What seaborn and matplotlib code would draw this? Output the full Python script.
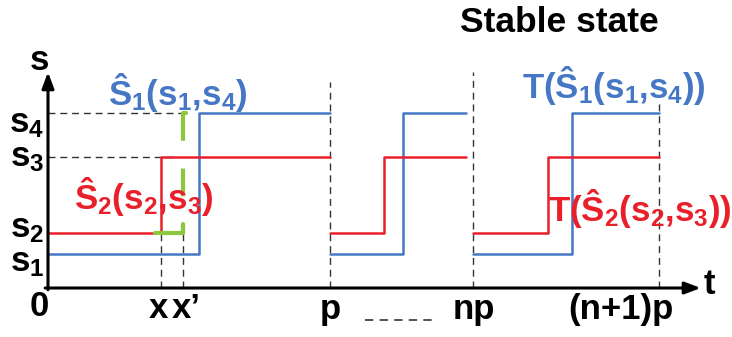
import matplotlib
matplotlib.use("Agg")
import matplotlib.pyplot as plt
import seaborn as sns
import pandas as pd

sns.set_theme(style="white")
plt.rcParams["font.family"] = ["Liberation Sans", "DejaVu Sans"]
plt.rcParams["font.weight"] = "bold"
plt.rcParams["text.color"] = "black"
plt.rcParams["mathtext.fontset"] = "custom"
plt.rcParams["mathtext.rm"] = "Liberation Sans:bold"
plt.rcParams["mathtext.it"] = "Liberation Sans:bold"
plt.rcParams["mathtext.bf"] = "Liberation Sans:bold"
plt.rcParams["lines.scale_dashes"] = False

# signal levels s1..s4
levels = {"s1": 1.0, "s2": 1.62, "s3": 3.85, "s4": 5.15}

# time axis (in units of the period p)
seg_start = [0.0, 1.0, 1.507]
seg_end = [1.0, 1.482, 2.167]
step_s2 = [0.401, 1.191, 1.773]     # rise of Ŝ2 from s2 to s3
step_s1 = [0.535, 1.259, 1.858]     # rise of Ŝ1 from s1 to s4
t_x = 0.401
t_xprime = 0.479
period_marks = [1.0, 1.507, 2.167]
period_tops = [6.06, 6.35, 5.53]
tick_labels = ["p", "np", "(n+1)p"]
tick_label_x = [1.0, 1.51, 2.032]

BLUE = "#4677C4"
RED = "#E8202A"
GREEN = "#8DC63F"

rows = []
for k in range(3):
    for name, step, lo, hi in (("S1", step_s1[k], levels["s1"], levels["s4"]),
                               ("S2", step_s2[k], levels["s2"], levels["s3"])):
        for t, s in ((seg_start[k], lo), (step, lo), (step, hi), (seg_end[k], hi)):
            rows.append({"t": t, "s": s, "series": name, "seg": k})
df = pd.DataFrame(rows)

fig = plt.figure(figsize=(7.32, 3.37), dpi=100)
ax = fig.add_axes([0, 0, 1, 1])
ax.set_xlim(-0.1702, 2.4255)
ax.set_ylim(-1.441, 8.471)
ax.axis("off")

dash = dict(color="#333333", lw=1.0, ls=(0, (5, 3.5)))

# guide lines
for xm, top in zip(period_marks, period_tops):
    ax.plot([xm, xm], [0, top], **dash)
ax.plot([0, t_xprime], [levels["s4"], levels["s4"]], **dash)
ax.plot([0, 0.443], [levels["s3"], levels["s3"]], **dash)
ax.plot([t_x, t_x], [0, levels["s2"]], **dash)
ax.plot([t_xprime, t_xprime], [0, levels["s2"]], **dash)
ax.plot([1.124, 1.379], [-0.95, -0.95], color="#333333", lw=1.2, ls=(0, (6, 4.5)))

# waveforms
sns.lineplot(data=df, x="t", y="s", hue="series", units="seg", estimator=None,
             sort=False, palette={"S1": BLUE, "S2": RED}, linewidth=1.8,
             legend=False, ax=ax)

# delay bracket x -> x'
ax.plot([t_xprime, t_xprime], [levels["s4"], levels["s2"]], color=GREEN, lw=3.0,
        ls=(0, (20, 20)), solid_capstyle="round")
ax.plot([t_xprime, t_xprime + 0.012], [levels["s4"], levels["s4"]], color=GREEN,
        lw=3.0, solid_capstyle="round")
ax.plot([0.38, t_xprime], [levels["s2"], levels["s2"]], color=GREEN, lw=3.0,
        solid_capstyle="round")
ax.plot([t_xprime, t_xprime], [levels["s2"], levels["s2"] + 0.25], color=GREEN,
        lw=3.0, solid_capstyle="round")

# axes with arrows
ax.annotate("", xy=(0, 6.35), xytext=(0, -0.05),
            arrowprops=dict(arrowstyle="-|>,head_length=0.8,head_width=0.3",
                            color="black", lw=2.2, shrinkA=0, shrinkB=0))
ax.annotate("", xy=(2.315, 0), xytext=(-0.01, 0),
            arrowprops=dict(arrowstyle="-|>,head_length=0.8,head_width=0.3",
                            color="black", lw=2.2, shrinkA=0, shrinkB=0))

big = 25
ax.text(-0.03, 6.7, "s", fontsize=big, ha="center", va="center")
ax.text(2.345, 0.1, "t", fontsize=big, ha="center", va="center")
ax.text(-0.03, -0.55, "0", fontsize=big, ha="center", va="center")
ax.text(t_x - 0.01, -0.6, "x", fontsize=big, ha="center", va="center")
ax.text(t_xprime + 0.01, -0.6, "x’", fontsize=big, ha="center", va="center")
for xl, lab in zip(tick_label_x, tick_labels):
    ax.text(xl, -0.62, lab, fontsize=big, ha="center", va="center")

label_y = {"s4": 4.85, "s3": 3.85, "s2": 1.75, "s1": 0.75}
for name, yv in label_y.items():
    ax.text(-0.075, yv, "s$_{%s}$" % name[1], fontsize=big, ha="center", va="center")

ax.text(1.812, 7.8, "Stable state", fontsize=big + 0.5, ha="center", va="center")
ax.text(0.46, 5.75, "Ŝ$_1$(s$_1$,s$_4$)", fontsize=big, color=BLUE,
        ha="center", va="center")
ax.text(0.34, 2.7, "Ŝ$_2$(s$_2$,s$_3$)", fontsize=big, color=RED,
        ha="center", va="center")
ax.text(2.007, 5.95, "T(Ŝ$_1$(s$_1$,s$_4$))", fontsize=big, color=BLUE,
        ha="center", va="center")
ax.text(2.10, 2.35, "T(Ŝ$_2$(s$_2$,s$_3$))", fontsize=big, color=RED,
        ha="center", va="center")

fig.savefig("out.png", dpi=100)
